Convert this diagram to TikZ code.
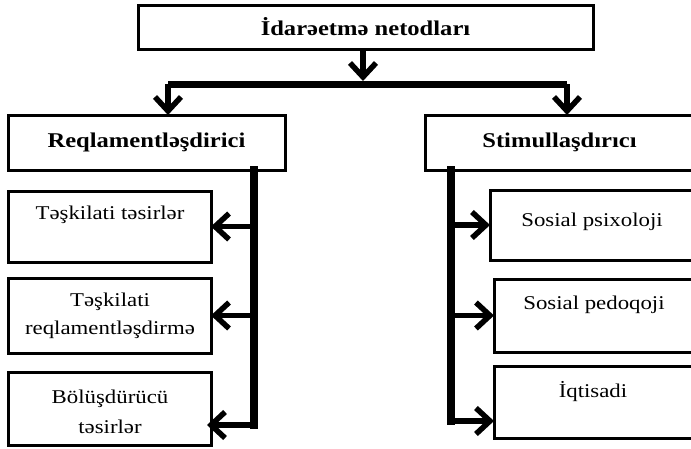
\documentclass[tikz,border=0pt]{standalone}
\usepackage{fontspec}
\setmainfont{Liberation Serif}
\newfontfamily\wideserif[FakeStretch=1.17]{Liberation Serif}
\usetikzlibrary{arrows.meta}

\begin{document}
\begin{tikzpicture}[x=1pt,y=-1pt,
  box/.style={draw, line width=3pt, inner sep=0pt, outer sep=0pt},
  head/.style={font=\wideserif\fontsize{21}{26}\selectfont\bfseries},
  txt/.style={font=\wideserif\fontsize{19.5}{28}\selectfont, align=center, inner sep=0pt},
  link/.style={line width=5.5pt, -{Straight Barb[length=14pt,width=26pt]}},
  spine/.style={line width=8pt, line cap=rect},
]
\useasboundingbox (0,0) rectangle (691,448);
\clip (0,0) rectangle (691,448);

% top level
\node[box, head, minimum width=455pt, minimum height=44pt] (top) at (365.5,27) {İdarəetmə netodları};

% second level
\node[box, head, minimum width=277pt, minimum height=55pt] (reg) at (146.5,142.5) {Reqlamentləşdirici};
\node[box, head, minimum width=269pt, minimum height=55pt] (sti) at (559.5,142.5) {Stimullaşdırıcı};

% left branch boxes
\node[box, minimum width=203pt, minimum height=71pt] (l1) at (109.5,226.5) {};
\node[box, minimum width=203pt, minimum height=75pt] (l2) at (109.5,315.5) {};
\node[box, minimum width=203pt, minimum height=73pt] (l3) at (109.5,408.5) {};
\node[txt] (l1t) at (110,215) {Təşkilati təsirlər};
\node[txt] (l2t) at (110,316) {Təşkilati\\reqlamentləşdirmə};
\node[txt] (l3t) at (110,412) {Bölüşdürücü\\[2pt]təsirlər};

% right branch boxes
\node[box, minimum width=204pt, minimum height=70pt] (r1) at (592,225) {};
\node[box, minimum width=200pt, minimum height=73pt] (r2) at (594,315.5) {};
\node[box, minimum width=200pt, minimum height=72pt] (r3) at (594,402) {};
\node[txt] (r1t) at (592,222) {Sosial psixoloji};
\node[txt] (r2t) at (594,305) {Sosial pedoqoji};
\node[txt] (r3t) at (593,392) {İqtisadi};

% distribution bar under the top box
\coordinate (hub) at (363,84);
\coordinate (barL) at (168,84);
\coordinate (barR) at (567,84);
\draw[link] (top.south -| hub) -- ([yshift=3pt]hub);
\draw[line width=7pt] (barL) -- (barR);
\draw[link] (barL) -- (barL |- reg.north);
\draw[link] (barR) -- (barR |- sti.north);

% left spine
\coordinate (ls) at (254,170);
\coordinate (lb) at (254,425);
\draw[spine] (ls) -- (lb);
\draw[link] (ls |- l1.east) -- (l1.east);
\draw[link] (ls |- l2.east) -- (l2.east);
\draw[link] (lb) -- ([xshift=-4pt]lb -| l3.east);

% right spine
\coordinate (rs) at (451,170);
\coordinate (rb) at (451,421);
\draw[spine] (rs) -- (rb);
\draw[link] (rs |- r1.west) -- (r1.west);
\draw[link] (rs |- r2.west) -- (r2.west);
\draw[link] (rb) -- (rb -| r3.west);
\end{tikzpicture}
\end{document}
